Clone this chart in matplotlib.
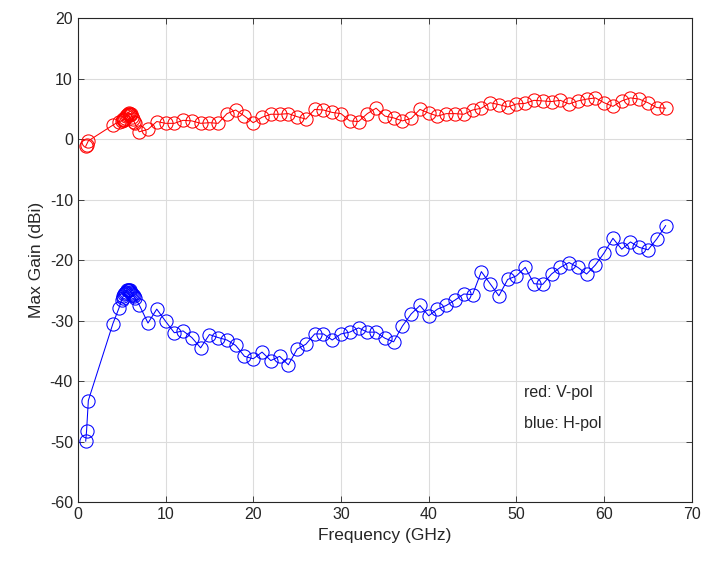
import numpy as np
import matplotlib.pyplot as plt

plt.rcParams['font.family'] = ['Liberation Sans', 'DejaVu Sans']
plt.rcParams['axes.unicode_minus'] = False
plt.rcParams['text.color'] = '#262626'
plt.rcParams['axes.labelcolor'] = '#262626'
plt.rcParams['xtick.labelcolor'] = '#262626'
plt.rcParams['ytick.labelcolor'] = '#262626'

# frequency points (GHz): a few near 1 GHz, dense 5-6.5 GHz, then 1 GHz steps
freq = [0.9, 1.0, 1.2, 4.0, 4.7,
        5.0, 5.1, 5.2, 5.3, 5.4, 5.5, 5.6, 5.7, 5.8, 5.9, 6.0, 6.1, 6.2, 6.3, 6.4, 6.5,
        7, 8, 9, 10, 11, 12, 13, 14, 15, 16, 17, 18, 19, 20, 21, 22, 23, 24, 25, 26,
        27, 28, 29, 30, 31, 32, 33, 34, 35, 36, 37, 38, 39, 40, 41, 42, 43, 44, 45, 46,
        47, 48, 49, 50, 51, 52, 53, 54, 55, 56, 57, 58, 59, 60, 61, 62, 63, 64, 65, 66, 67]

# V-pol (red)
gain_v = [-1.2, -0.9, -0.3, 2.3, 2.9,
          3.0, 3.1, 3.3, 3.2, 3.5, 3.8, 3.9, 4.1, 4.3, 4.2, 4.0, 4.1, 3.7, 3.3, 2.9, 2.6,
          1.2, 1.6, 2.9, 2.6, 2.6, 3.1, 3.0, 2.6, 2.7, 2.6, 4.2, 4.8, 3.8, 2.7, 3.6, 4.1,
          4.1, 4.2, 3.7, 3.3, 4.9, 4.8, 4.4, 4.2, 3.0, 2.9, 4.2, 5.1, 3.8, 3.5, 3.0, 3.4,
          4.9, 4.3, 3.8, 4.2, 4.2, 4.1, 4.8, 5.1, 6.0, 5.7, 5.3, 5.8, 5.9, 6.4, 6.3, 6.2,
          6.4, 5.8, 6.3, 6.6, 6.8, 6.0, 5.4, 6.3, 6.8, 6.6, 6.0, 5.2, 5.1]

# H-pol (blue)
gain_h = [-49.9, -48.2, -43.2, -30.5, -27.9,
          -26.6, -26.2, -25.9, -25.6, -25.4, -25.2, -25.0, -24.9, -24.9, -25.0, -25.2,
          -25.4, -25.6, -25.8, -26.0, -26.3,
          -27.4, -30.4, -28.1, -30.1, -32.0, -31.7, -32.8, -34.5, -32.3, -32.8, -33.2,
          -34.1, -35.9, -36.3, -35.2, -36.6, -35.9, -37.3, -34.7, -33.9, -32.2, -32.2,
          -33.2, -32.2, -31.9, -31.2, -31.9, -31.9, -32.9, -33.5, -30.9, -28.9, -27.5,
          -29.2, -28.1, -27.5, -26.6, -25.6, -25.7, -21.9, -23.9, -25.9, -23.2, -22.6,
          -21.2, -23.9, -24.0, -22.3, -21.2, -20.4, -21.2, -22.3, -20.8, -18.8, -16.4,
          -18.2, -17.0, -17.9, -18.3, -16.5, -14.3]

fig = plt.figure(figsize=(7.01, 5.63), dpi=100)
ax = fig.add_axes([0.111, 0.108, 0.876, 0.860])

ax.plot(freq, gain_v, color='red', marker='o', markerfacecolor='none',
        markersize=9.5, markeredgewidth=0.75, linewidth=0.75)
ax.plot(freq, gain_h, color='blue', marker='o', markerfacecolor='none',
        markersize=9.5, markeredgewidth=0.75, linewidth=0.75)

ax.set_xlim(0, 70)
ax.set_ylim(-60, 20)
ax.set_xticks(np.arange(0, 71, 10))
ax.set_yticks(np.arange(-60, 21, 10))
ax.grid(True, color='#dcdcdc', linewidth=0.8)
ax.set_axisbelow(True)
ax.tick_params(direction='in', top=True, right=True, labelsize=11.5,
               color='#262626', length=4, width=0.6)
for s in ax.spines.values():
    s.set_color('#262626')
    s.set_linewidth(0.8)

ax.set_xlabel('Frequency (GHz)', fontsize=12.5)
ax.set_ylabel('Max Gain (dBi)', fontsize=12.5)

ax.text(50.9, -41.9, 'red: V-pol', fontsize=11.5, va='center', ha='left')
ax.text(50.9, -47.0, 'blue: H-pol', fontsize=11.5, va='center', ha='left')

fig.savefig('out.png', dpi=100)
